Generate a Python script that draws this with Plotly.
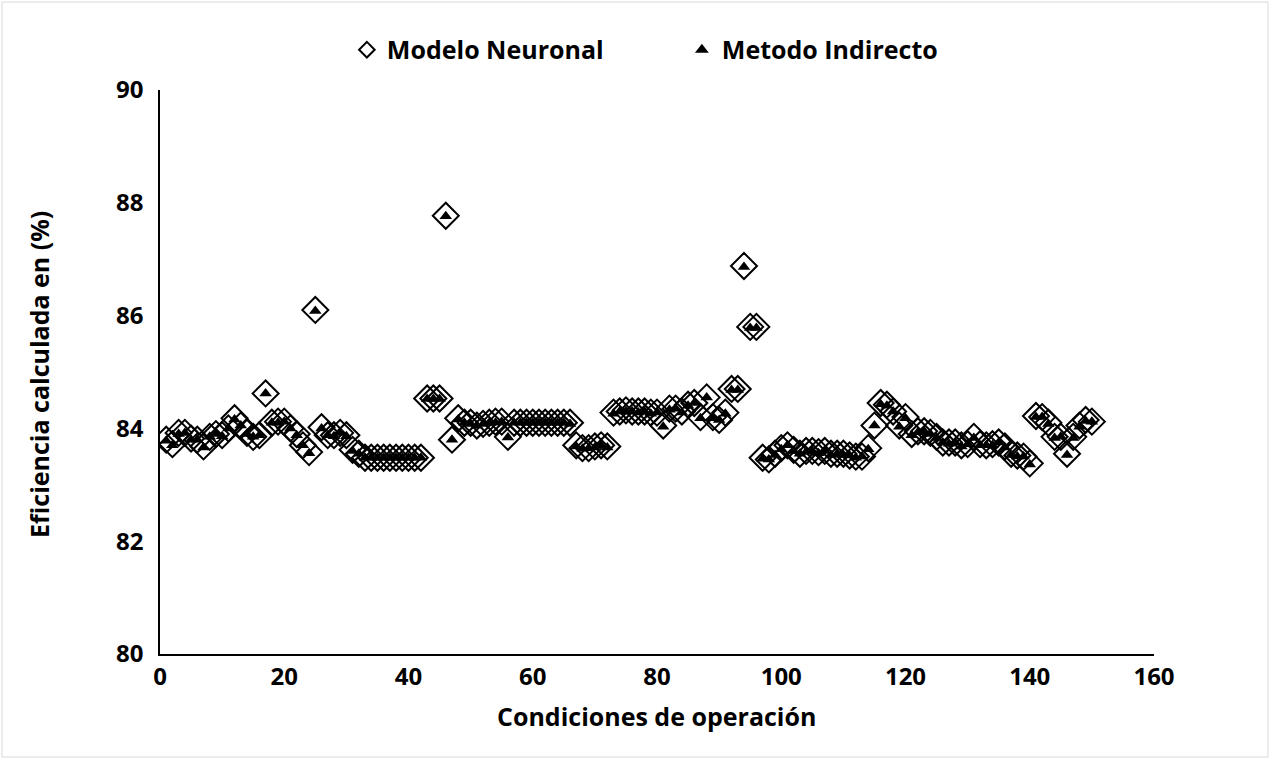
import plotly.graph_objects as go

condiciones = list(range(1, 151))

modelo_neuronal = [
    83.80, 83.72, 83.92, 83.92, 83.82, 83.80, 83.68, 83.85, 83.90, 83.88,
    84.00, 84.18, 84.05, 83.92, 83.85, 83.88, 84.62, 84.10, 84.12, 84.12,
    84.00, 83.90, 83.70, 83.58, 86.10, 84.02, 83.88, 83.88, 83.92, 83.88,
    83.62, 83.55, 83.48, 83.48, 83.48, 83.48, 83.48, 83.48, 83.48, 83.48,
    83.48, 83.48, 84.53, 84.53, 84.53, 87.77, 83.80, 84.18, 84.10, 84.10,
    84.05, 84.08, 84.10, 84.12, 84.12, 83.85, 84.10, 84.10, 84.10, 84.10,
    84.10, 84.10, 84.10, 84.10, 84.10, 84.10, 83.70, 83.65, 83.65, 83.68,
    83.70, 83.68, 84.28, 84.30, 84.32, 84.30, 84.30, 84.30, 84.28, 84.28,
    84.05, 84.35, 84.35, 84.30, 84.42, 84.45, 84.20, 84.55, 84.20, 84.15,
    84.28, 84.70, 84.70, 86.88, 85.80, 85.80, 83.48, 83.45, 83.55, 83.65,
    83.70, 83.62, 83.55, 83.60, 83.60, 83.58, 83.60, 83.55, 83.55, 83.55,
    83.52, 83.50, 83.50, 83.65, 84.05, 84.45, 84.42, 84.30, 84.05, 84.20,
    83.90, 83.95, 83.95, 83.92, 83.85, 83.75, 83.75, 83.75, 83.70, 83.72,
    83.85, 83.72, 83.70, 83.72, 83.75, 83.68, 83.55, 83.52, 83.50, 83.38,
    84.22, 84.20, 84.10, 83.85, 83.85, 83.55, 83.85, 84.05, 84.15, 84.12,
]

metodo_indirecto = [
    83.78, 83.70, 83.90, 83.92, 83.80, 83.80, 83.66, 83.85, 83.90, 83.86,
    84.00, 84.16, 84.05, 83.90, 83.85, 83.88, 84.62, 84.10, 84.10, 84.12,
    84.00, 83.88, 83.70, 83.56, 86.08, 84.00, 83.88, 83.86, 83.92, 83.86,
    83.60, 83.55, 83.48, 83.48, 83.48, 83.48, 83.48, 83.48, 83.48, 83.48,
    83.48, 83.48, 84.52, 84.52, 84.52, 87.76, 83.80, 84.16, 84.10, 84.08,
    84.05, 84.08, 84.10, 84.10, 84.12, 83.84, 84.10, 84.10, 84.10, 84.10,
    84.10, 84.10, 84.10, 84.10, 84.10, 84.08, 83.68, 83.64, 83.65, 83.66,
    83.70, 83.66, 84.26, 84.30, 84.30, 84.30, 84.28, 84.30, 84.26, 84.28,
    84.03, 84.33, 84.35, 84.28, 84.40, 84.45, 84.18, 84.55, 84.18, 84.15,
    84.26, 84.68, 84.68, 86.86, 85.78, 85.78, 83.46, 83.45, 83.53, 83.63,
    83.70, 83.60, 83.55, 83.58, 83.60, 83.56, 83.60, 83.53, 83.55, 83.53,
    83.52, 83.48, 83.50, 83.63, 84.05, 84.43, 84.40, 84.30, 84.03, 84.18,
    83.88, 83.93, 83.95, 83.90, 83.83, 83.75, 83.73, 83.75, 83.68, 83.72,
    83.83, 83.70, 83.70, 83.70, 83.75, 83.66, 83.53, 83.50, 83.50, 83.36,
    84.20, 84.20, 84.08, 83.83, 83.85, 83.53, 83.83, 84.03, 84.13, 84.12,
]

x_ticks = [0, 20, 40, 60, 80, 100, 120, 140, 160]
y_ticks = [80, 82, 84, 86, 88, 90]

FONT = "Open Sans"

fig = go.Figure()
fig.add_trace(go.Scatter(
    x=condiciones, y=modelo_neuronal, mode="markers", name="Modelo Neuronal",
    marker=dict(symbol="diamond-open", size=20, color="black", line=dict(width=2, color="black")),
))
fig.add_trace(go.Scatter(
    x=condiciones, y=metodo_indirecto, mode="markers", name="Metodo Indirecto",
    marker=dict(symbol="triangle-up", size=11, color="black"),
))

fig.update_layout(
    width=1273, height=758,
    margin=dict(l=160, r=119, t=90, b=104),
    paper_bgcolor="white", plot_bgcolor="white",
    font=dict(family=FONT, color="black"),
    showlegend=True,
    legend=dict(
        orientation="h", x=0.188, xanchor="left", y=1.071, yanchor="middle",
        font=dict(family=FONT, size=25, color="black", weight="bold"),
        itemsizing="constant", itemwidth=30, traceorder="normal",
        entrywidth=290, entrywidthmode="pixels",
    ),
    xaxis=dict(
        range=[0, 160], tickvals=x_ticks, showgrid=False, zeroline=False,
        showline=True, linecolor="black", linewidth=1.5,
        tickfont=dict(family=FONT, size=24, color="black", weight="bold"),
        ticks="", ticklabelstandoff=0,
    ),
    yaxis=dict(
        range=[80, 90], tickvals=y_ticks, showgrid=False, zeroline=False,
        showline=True, linecolor="black", linewidth=1.5,
        tickfont=dict(family=FONT, size=24, color="black", weight="bold"),
        ticks="", ticklabelstandoff=10,
    ),
    annotations=[
        dict(text="Condiciones de operación", xref="paper", yref="paper",
             x=0.499, y=-0.110, xanchor="center", yanchor="middle", showarrow=False,
             font=dict(family=FONT, size=25, color="black", weight="bold")),
        dict(text="Eficiencia calculada en (%)", xref="paper", yref="paper",
             x=-0.121, y=0.496, xanchor="center", yanchor="middle", showarrow=False,
             textangle=-90,
             font=dict(family=FONT, size=25, color="black", weight="bold")),
    ],
    shapes=[dict(
        type="rect", xref="paper", yref="paper",
        x0=-0.159, x1=1.1147, y0=-0.1826, y1=1.156,
        line=dict(color="#D9D9D9", width=1), fillcolor="rgba(0,0,0,0)", layer="below",
    )],
)

fig.write_html("out.html", config={"displayModeBar": False},
               post_script="document.body.style.margin='0';document.body.style.overflow='hidden';")
